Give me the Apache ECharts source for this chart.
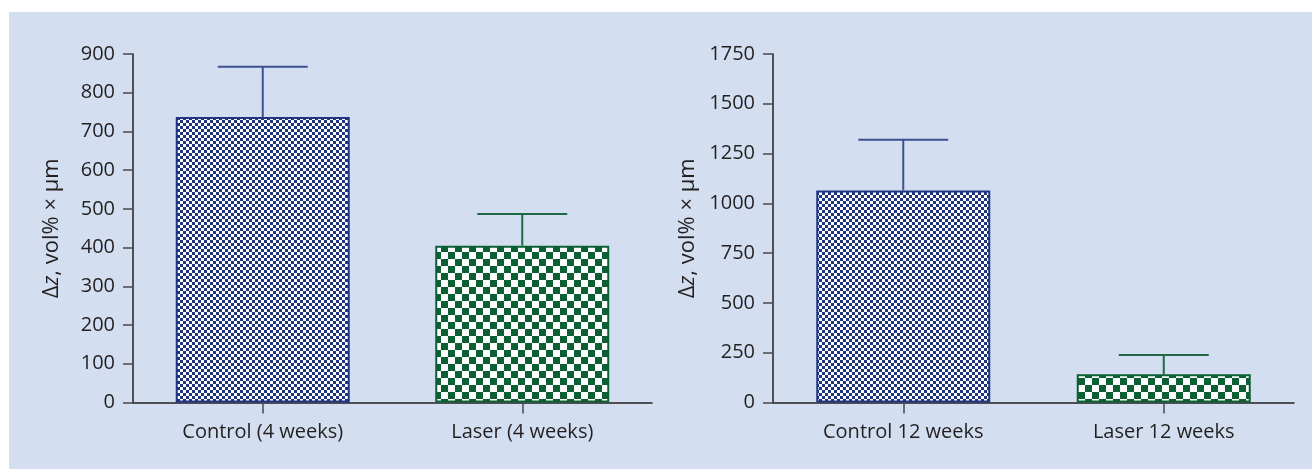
<!DOCTYPE html>
<html>
<head>
<meta charset="utf-8">
<style>
  html, body { margin: 0; padding: 0; background: #ffffff; }
  #chart { width: 1312px; height: 469px; }
</style>
<script src="https://cdn.jsdelivr.net/npm/echarts@6/dist/echarts.min.js"></script>
</head>
<body>
<div id="chart"></div>
<script>
// Volume change (Δz) after 4 and 12 weeks, control vs. laser
const categories4 = ['Control (4 weeks)', 'Laser (4 weeks)'];
const means4 = [737, 405];
const sd4 = [130, 82];
const ticks4 = { max: 900, interval: 100 };

const categories12 = ['Control 12 weeks', 'Laser 12 weeks'];
const means12 = [1065, 142];
const sd12 = [255, 97];
const ticks12 = { max: 1750, interval: 250 };

const NAVY = '#1f3582';
const GREEN = '#0a5f33';
const AXIS = '#231f20';
const TEXT = '#231f20';
const FONT = '"Open Sans", "Noto Sans", sans-serif';

// checkerboard fill used for the bars
function checker(color, cell) {
  const c = document.createElement('canvas');
  c.width = cell * 2; c.height = cell * 2;
  const g = c.getContext('2d');
  g.fillStyle = '#ffffff';
  g.fillRect(0, 0, c.width, c.height);
  g.fillStyle = color;
  g.fillRect(0, 0, cell, cell);
  g.fillRect(cell, cell, cell, cell);
  return { image: c, repeat: 'repeat' };
}
const navyFill = checker(NAVY, 3);
const greenFill = checker(GREEN, 7);

const fills = [navyFill, greenFill];
const borders = [NAVY, GREEN];
const errColors = ['#3d5192', '#1f6a45'];

const yName = '{n|Δ}{i|z}{n|, vol% × μm}';
const nameStyle = {
  rich: {
    n: { fontFamily: FONT, fontSize: 22, color: TEXT },
    i: { fontFamily: FONT, fontSize: 22, color: TEXT, fontStyle: 'italic' }
  }
};

function yAxis(idx, t, gap) {
  return {
    type: 'value', gridIndex: idx, min: 0, max: t.max, interval: t.interval,
    name: yName, nameLocation: 'middle', nameGap: gap, nameTextStyle: nameStyle,
    axisLine: { show: true, lineStyle: { color: AXIS, width: 1.5 } },
    axisTick: { show: true, length: 10, lineStyle: { color: '#4a4a4a', width: 1.5 } },
    axisLabel: { margin: 18, color: TEXT, fontFamily: FONT, fontSize: 20, formatter: v => String(v) },
    splitLine: { show: false }
  };
}
function xAxis(idx, cats) {
  return {
    type: 'category', gridIndex: idx, data: cats,
    axisLine: { show: true, lineStyle: { color: AXIS, width: 1.5 } },
    axisTick: { show: true, alignWithLabel: true, length: 11, lineStyle: { color: '#4a4a4a', width: 1.5 } },
    axisLabel: { margin: 20, color: TEXT, fontFamily: FONT, fontSize: 20 }
  };
}
function barSeries(idx, means) {
  return {
    type: 'bar', xAxisIndex: idx, yAxisIndex: idx, barWidth: 174,
    data: means.map((v, i) => ({
      value: v,
      itemStyle: { color: fills[i], borderColor: borders[i], borderWidth: 2 }
    })),
    animation: false, silent: true
  };
}
function errSeries(idx, means, sd) {
  return {
    type: 'custom', xAxisIndex: idx, yAxisIndex: idx,
    data: means.map((m, i) => [i, m, m + sd[i]]),
    renderItem: function (params, api) {
      const i = api.value(0);
      const base = api.coord([i, api.value(1)]);
      const top = api.coord([i, api.value(2)]);
      const half = 45;
      const style = { stroke: errColors[i], lineWidth: 2 };
      return {
        type: 'group',
        children: [
          { type: 'line', shape: { x1: base[0], y1: base[1], x2: top[0], y2: top[1] }, style: style },
          { type: 'line', shape: { x1: top[0] - half, y1: top[1], x2: top[0] + half, y2: top[1] }, style: style }
        ]
      };
    },
    z: 3, animation: false, silent: true
  };
}

const chart = echarts.init(document.getElementById('chart'), null, { renderer: 'canvas' });
chart.setOption({
  backgroundColor: '#ffffff',
  animation: false,
  graphic: [{
    type: 'rect', left: 9, top: 12, z: -10,
    shape: { width: 1303, height: 457 },
    style: { fill: '#d3dff0' }
  }],
  grid: [
    { left: 133, top: 54, width: 519, height: 348.5 },
    { left: 773, top: 54, width: 521, height: 348.5 }
  ],
  xAxis: [xAxis(0, categories4), xAxis(1, categories12)],
  yAxis: [yAxis(0, ticks4, 70), yAxis(1, ticks12, 74)],
  series: [
    barSeries(0, means4), errSeries(0, means4, sd4),
    barSeries(1, means12), errSeries(1, means12, sd12)
  ]
});
</script>
</body>
</html>
